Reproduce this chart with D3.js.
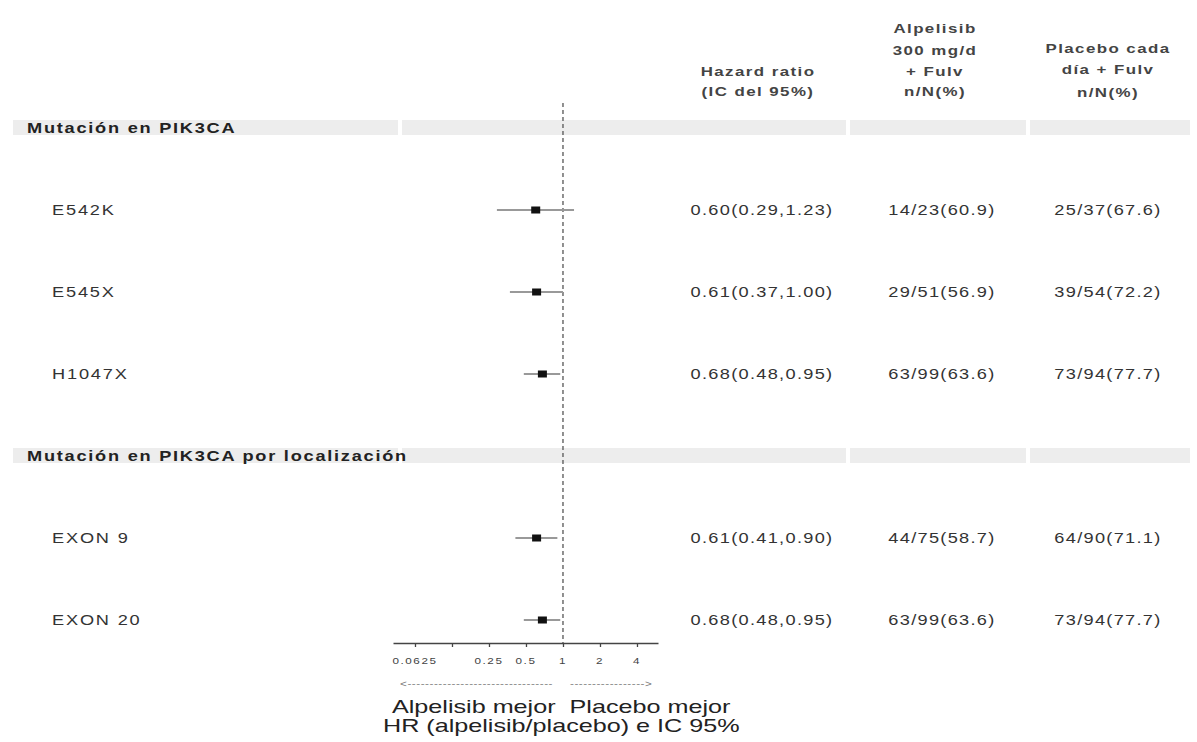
<!DOCTYPE html>
<html>
<head>
<meta charset="utf-8">
<script src="https://cdn.jsdelivr.net/npm/d3@7"></script>
<style>
  html, body { margin: 0; padding: 0; background: #fff; }
  svg { display: block; }
  text { font-family: "Liberation Sans", Arial, sans-serif; white-space: pre; }
</style>
</head>
<body>
<svg id="chart" width="1197" height="742"></svg>
<script>
// ---- data ----
const rowLabels   = ["Mutación en PIK3CA", "E542K", "E545X", "H1047X",
                     "Mutación en PIK3CA por localización", "EXON 9", "EXON 20"];
const rowIsHeader = [true, false, false, false, true, false, false];
const rowIndex    = [0, 2, 4, 6, 8, 10, 12];
const hr          = [null, 0.60, 0.61, 0.68, null, 0.61, 0.68];
const ciLow       = [null, 0.29, 0.37, 0.48, null, 0.41, 0.48];
const ciHigh      = [null, 1.23, 1.00, 0.95, null, 0.90, 0.95];
const alpText     = [null, "14/23(60.9)", "29/51(56.9)", "63/99(63.6)", null, "44/75(58.7)", "63/99(63.6)"];
const plaText     = [null, "25/37(67.6)", "39/54(72.2)", "73/94(77.7)", null, "64/90(71.1)", "73/94(77.7)"];
const tickValues  = [0.0625, 0.125, 0.25, 0.5, 1, 2, 4];
const tickLabels  = ["0.0625", "", "0.25", "0.5", "1", "2", "4"];
const colHeaders  = [
  ["Hazard ratio", "(IC del 95%)"],
  ["Alpelisib", "300 mg/d", "+ Fulv", "n/N(%)"],
  ["Placebo cada", "día + Fulv", "n/N(%)"]
];
const xLabelLines = ["Alpelisib mejor  Placebo mejor", "HR (alpelisib/placebo) e IC 95%"];

const fmt = d3.format(".2f");
const hrText = hr.map((v, i) => v == null ? null : `${fmt(v)}(${fmt(ciLow[i])},${fmt(ciHigh[i])})`);

const svg = d3.select("#chart");

// horizontally widened text, as in the printed table
const SX = 1.3;
function wideText(x, y, str, o = {}) {
  return svg.append("text")
    .attr("transform", `translate(${x},${y}) scale(${o.sx || SX},1)`)
    .attr("text-anchor", o.anchor || "start")
    .attr("font-size", o.size || 14)
    .attr("font-weight", o.weight || "normal")
    .attr("letter-spacing", o.ls == null ? 1 : o.ls)
    .attr("fill", o.fill || "#333")
    .text(str);
}

// ---- scales ----
const x = d3.scaleLog().base(2).domain([0.0414, 5.93]).range([393, 658]);
const y = d3.scaleLinear().domain([0, 12]).range([128, 620]);

const colX = { label: 27, labelIndent: 52, hr: 762, alp: 942, pla: 1108 };

// ---- header bands (grey strips behind the group titles) ----
const bandSegments = [[13, 398], [402, 846], [850, 1026], [1030, 1190]];
rowIndex.forEach((ri, i) => {
  if (!rowIsHeader[i]) return;
  bandSegments.forEach(([a, b]) => {
    svg.append("rect")
      .attr("x", a).attr("y", y(ri) - 8)
      .attr("width", b - a).attr("height", 15)
      .attr("fill", "#ededed");
  });
});

// ---- column headers ----
const headerLineY = [
  [71, 91],
  [28, 50, 71, 91],
  [48, 69, 92]
];
const headerX = [758, 935, 1108];
colHeaders.forEach((lines, c) => {
  lines.forEach((t, k) => {
    wideText(headerX[c], headerLineY[c][k] + 4.5, t,
      { anchor: "middle", size: 13, weight: "bold", ls: 1.1, fill: "#444" });
  });
});

// ---- reference line at HR = 1 ----
svg.append("line")
  .attr("x1", x(1)).attr("x2", x(1))
  .attr("y1", 103).attr("y2", 643)
  .attr("stroke", "#555").attr("stroke-width", 1.3)
  .attr("stroke-dasharray", "4,3");

// ---- rows ----
rowIndex.forEach((ri, i) => {
  const yy = y(ri);
  if (rowIsHeader[i]) {
    wideText(colX.label, yy + 5, rowLabels[i],
      { size: 14, weight: "bold", ls: 1.35, fill: "#222" });
    return;
  }
  wideText(colX.labelIndent, yy + 5, rowLabels[i], { size: 14, ls: 1.4 });

  // confidence interval
  svg.append("line")
    .attr("x1", x(ciLow[i])).attr("x2", x(ciHigh[i]))
    .attr("y1", yy).attr("y2", yy)
    .attr("stroke", "#999").attr("stroke-width", 2.2);
  // point estimate
  svg.append("rect")
    .attr("x", x(hr[i]) - 4.5).attr("y", yy - 3.5)
    .attr("width", 9).attr("height", 7)
    .attr("fill", "#111");

  // table cells
  [[hrText[i], colX.hr], [alpText[i], colX.alp], [plaText[i], colX.pla]].forEach(([t, cx]) => {
    wideText(cx, yy + 5, t, { anchor: "middle", size: 14, ls: 1 });
  });
});

// ---- x axis ----
const axisY = 643;
const axis = d3.axisBottom(x)
  .tickValues(tickValues)
  .tickFormat("")
  .tickSize(4)
  .tickSizeOuter(0);
const gAxis = svg.append("g").attr("transform", `translate(0,${axisY})`).call(axis);
gAxis.select(".domain").attr("stroke", "#444").attr("stroke-width", 1.5);
gAxis.selectAll(".tick line").attr("stroke", "#444").attr("stroke-width", 1.3);

// tick labels, widened like the rest of the text
tickValues.forEach((v, i) => {
  if (!tickLabels[i]) return;
  wideText(x(v), axisY + 21, tickLabels[i],
    { anchor: "middle", size: 9, ls: 1.2, fill: "#444" });
});

// direction arrows under the axis
wideText(x(1) - 10, 687, "<" + "-".repeat(33),
  { anchor: "end", size: 9, ls: 0.4, fill: "#777" });
wideText(x(1) + 7, 687, "-".repeat(17) + ">",
  { size: 9, ls: 0.4, fill: "#777" });

// axis title
const titleX = [392, 383];
xLabelLines.forEach((t, k) => {
  wideText(titleX[k], 713 + k * 19, t,
    { sx: 1.36, size: 18.5, ls: 0, fill: "#222" });
});
</script>
</body>
</html>
